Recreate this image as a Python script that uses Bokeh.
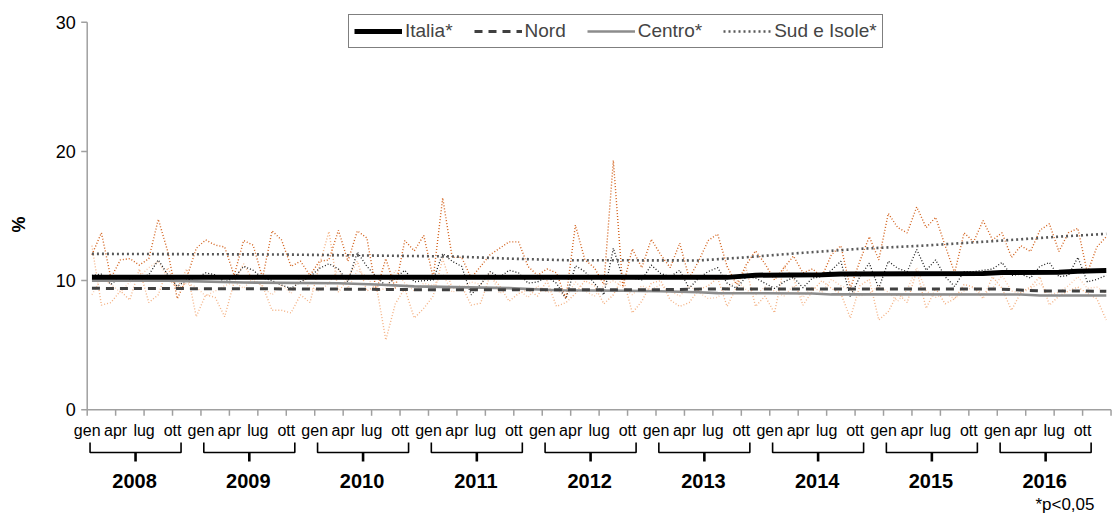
import math
from bokeh.plotting import figure
from bokeh.models import Range1d, Legend, LegendItem
from bokeh.core.properties import value
from bokeh.embed import file_html
from bokeh.resources import INLINE

# ---------------- data ----------------
anni = [2008, 2009, 2010, 2011, 2012, 2013, 2014, 2015, 2016]
mesi = ["gen", "apr", "lug", "ott"]
y_ticks = [0, 10, 20, 30]

# monthly values (%), Jan 2008 .. Dec 2016
italia_mensile = [
    10.4, 10.5, 9.7, 10.3, 10.1, 10.2, 10.45, 11.6, 10.45, 9.55, 10.05, 10.2,
    10.6, 10.45, 9.9, 10.2, 11.1, 10.8, 10.2, 10.0, 9.65, 9.4, 9.9, 10.3,
    10.95, 11.3, 10.9, 9.9, 12.2, 11.1, 10.3, 9.6, 10.2, 10.8, 9.9, 10.0,
    10.05, 12.1, 11.5, 11.1, 8.9, 9.7, 10.7, 10.25, 10.8, 10.6, 9.8, 9.9,
    10.3, 9.8, 8.6, 11.15, 10.7, 9.8, 8.9, 12.5, 10.2, 10.2, 10.05, 11.2,
    10.55, 10.3, 10.8, 9.4, 10.2, 10.7, 11.0, 9.8, 9.4, 10.3, 10.2, 9.8,
    9.4, 9.9, 10.25, 9.45, 10.2, 10.3, 10.8, 11.5, 8.75, 10.3, 11.35, 9.4,
    11.5, 10.95, 10.7, 12.4, 10.8, 11.6, 10.3, 9.55, 10.7, 10.7, 10.8, 10.9,
    11.4, 10.4, 10.5, 10.2, 11.1, 11.4, 10.3, 10.4, 11.8, 9.9, 10.1, 10.4,
]
nord_mensile = [
    8.9, 10.2, 9.7, 9.1, 9.9, 10.3, 11.0, 11.5, 10.2, 9.4, 9.8, 9.5,
    8.8, 9.2, 9.6, 9.9, 9.4, 10.2, 9.5, 8.9, 9.7, 9.0, 10.3, 9.4,
    9.2, 9.8, 10.9, 9.4, 10.8, 10.3, 9.2, 9.4, 10.8, 9.8, 9.2, 9.8,
    9.6, 10.5, 9.1, 9.4, 9.9, 9.7, 10.6, 9.0, 9.5, 9.3, 8.7, 9.6,
    9.1, 9.3, 8.7, 9.9, 9.2, 8.8, 9.6, 10.0, 9.5, 8.9, 9.6, 9.3,
    9.7, 9.2, 8.8, 9.6, 9.1, 8.6, 8.7, 9.4, 10.0, 9.3, 8.9, 9.5,
    9.2, 8.8, 9.6, 8.7, 9.5, 9.1, 10.1, 9.6, 9.3, 8.8, 9.0, 9.6,
    9.1, 8.4, 9.3, 11.0, 9.2, 8.7, 9.0, 8.6, 9.2, 9.5, 8.9, 9.4,
    10.4, 9.2, 9.0, 9.4, 9.8, 8.9, 9.1, 9.6, 10.3, 9.4, 9.5, 9.0,
]
centro_mensile = [
    12.7, 8.1, 8.3, 9.2, 8.5, 10.9, 8.3, 8.9, 11.0, 9.4, 10.9, 7.2,
    8.9, 8.7, 7.2, 9.9, 11.3, 10.0, 9.6, 7.7, 7.7, 7.5, 8.9, 8.3,
    11.2, 13.8, 9.1, 10.2, 11.5, 9.2, 9.6, 5.4, 8.2, 9.4, 7.1, 7.85,
    8.8, 11.7, 9.4, 9.6, 8.1, 8.25, 10.4, 9.6, 8.4, 9.0, 9.3, 8.8,
    10.0, 8.0, 8.3, 9.0, 10.0, 9.6, 8.2, 8.9, 10.3, 7.5, 8.4, 9.8,
    10.0, 8.5, 8.0, 8.3, 9.3, 9.6, 10.2, 8.0, 9.5, 11.0, 8.0, 8.8,
    7.5, 11.1, 10.2, 8.1, 9.2, 10.0, 9.4, 9.0, 7.1, 9.6, 10.1, 6.95,
    7.6, 9.0, 8.3, 10.8, 7.85, 9.4, 8.2, 8.6, 9.7, 9.5, 8.6, 10.3,
    9.4, 7.7, 9.1, 9.5, 10.3, 8.1, 8.8, 9.2, 9.5, 9.0, 8.6, 6.95,
]
sud_mensile = [
    12.0, 13.7, 10.2, 11.6, 11.7, 11.2, 11.7, 14.75, 12.25, 8.6, 10.2, 12.5,
    13.15, 12.75, 12.6, 10.4, 13.1, 12.75, 10.2, 13.85, 13.15, 11.1, 11.5, 10.4,
    11.5, 11.6, 13.9, 11.5, 13.85, 13.3, 9.2, 11.7, 9.4, 13.1, 12.3, 13.5,
    10.2, 16.4, 11.8, 11.8, 10.2, 11.1, 12.0, 12.5, 13.0, 13.0, 11.1, 10.4,
    10.9, 10.6, 8.6, 14.3, 11.6, 11.0, 9.7, 19.3, 9.5, 12.45, 11.0, 13.2,
    12.0, 11.0, 12.9, 10.2, 11.5, 13.1, 13.6, 11.1, 9.7, 11.2, 12.3, 11.3,
    10.05, 11.0, 11.9, 10.6, 10.9, 10.3, 12.0, 12.7, 9.4, 11.5, 13.4, 11.6,
    15.2, 14.1, 13.7, 15.7, 14.1, 14.9, 12.7, 10.6, 13.7, 13.0, 14.65, 13.15,
    13.7, 11.8, 12.7, 12.25, 13.9, 14.4, 12.25, 13.7, 14.05, 10.6, 12.6, 13.4,
]

# trend lines: (month index, value) breakpoints
italia_trend_mese = [0, 67, 70, 77, 79, 94, 96, 102, 104, 107]
italia_trend_val = [10.25, 10.25, 10.42, 10.45, 10.52, 10.55, 10.63, 10.65, 10.73, 10.78]
nord_trend_mese = [0, 24, 36, 60, 66, 96, 100, 107]
nord_trend_val = [9.4, 9.35, 9.29, 9.3, 9.36, 9.34, 9.2, 9.18]
centro_trend_mese = [0, 8, 16, 26, 30, 34, 44, 49, 56, 60, 64, 66, 76, 78, 98, 100, 107]
centro_trend_val = [10.0, 10.0, 9.85, 9.8, 9.7, 9.55, 9.42, 9.25, 9.22, 9.18, 9.1, 9.03, 9.0, 8.93, 8.92, 8.85, 8.85]
sud_trend_mese = [0, 20, 28, 38, 44, 50, 64, 68, 75, 81, 88, 95, 102, 107]
sud_trend_val = [12.07, 12.02, 11.95, 11.87, 11.7, 11.58, 11.56, 11.75, 12.15, 12.46, 12.72, 13.05, 13.4, 13.62]

# ---------------- figure ----------------
FONT = "Liberation Sans"
W, H = 1112, 513
SX, SY = 9.48, 12.92          # px per month, px per percentage point
X0, Y0 = 86.7, 409.3          # page position of (0, 0)
n_mesi = len(italia_mensile)
xm = [i + 0.5 for i in range(n_mesi)]

p = figure(width=W, height=H,
           x_range=Range1d(-X0 / SX, (W - X0) / SX),
           y_range=Range1d(-(H - Y0) / SY, Y0 / SY),
           output_backend="svg", toolbar_location=None,
           x_axis_location=None, y_axis_location=None,
           min_border_left=0, min_border_right=0, min_border_top=0, min_border_bottom=0)
p.xgrid.visible = False
p.ygrid.visible = False
p.outline_line_color = None
p.background_fill_color = "white"
p.border_fill_color = "white"

AX = "#a0a0a0"
# monthly series (dotted)
p.line(xm, centro_mensile, line_color="#F4B183", line_width=1.4, line_dash="1 2")
p.line(xm, nord_mensile, line_color="#F8CBAD", line_width=1.4, line_dash="1 2")
p.line(xm, italia_mensile, line_color="#1a1a1a", line_width=1.3, line_dash="1 2")
p.line(xm, sud_mensile, line_color="#D2601A", line_width=1.4, line_dash="1 2")

# trends
r_sud = p.line([m + 0.5 for m in sud_trend_mese], sud_trend_val, line_color="#595959",
               line_width=2.6, line_dash="2 3")
r_centro = p.line([m + 0.5 for m in centro_trend_mese], centro_trend_val, line_color="#8c8c8c",
                  line_width=2.6)
r_nord = p.line([m + 0.5 for m in nord_trend_mese], nord_trend_val, line_color="#404040",
                line_width=3, line_dash="8 6")
r_it = p.line([m + 0.5 for m in italia_trend_mese], italia_trend_val, line_color="black",
              line_width=5)

# y axis (drawn)
p.segment(x0=[0], y0=[y_ticks[0]], x1=[0], y1=[y_ticks[-1]], line_color=AX, line_width=1.5)
p.segment(x0=[0] * len(y_ticks), y0=y_ticks, x1=[-6 / SX] * len(y_ticks), y1=y_ticks,
          line_color=AX, line_width=1.5)
p.text(x=[-11.5 / SX] * len(y_ticks), y=y_ticks, text=[str(t) for t in y_ticks],
       text_align="right", text_baseline="middle",
       text_font=value(FONT), text_font_size="18px", text_color="black")
p.text(x=[(18 - X0) / SX], y=[(Y0 - 224) / SY], text=["%"], angle=math.pi / 2,
       text_align="center", text_baseline="middle",
       text_font=value(FONT), text_font_size="18px", text_font_style="bold", text_color="black")

# x axis (drawn)
p.segment(x0=[0], y0=[0], x1=[n_mesi], y1=[0], line_color=AX, line_width=1.5)
tx = list(range(0, n_mesi + 1, 3))
p.segment(x0=tx, y0=[0] * len(tx), x1=tx, y1=[-6 / SY] * len(tx), line_color=AX, line_width=1.5)

lab_x, lab_t = [], []
for k, a in enumerate(anni):
    for j, m in enumerate(mesi):
        lab_x.append(12 * k + 3 * j)
        lab_t.append(m)
p.text(x=lab_x, y=[-(430 - Y0) / SY] * len(lab_x), text=lab_t, text_align="center",
       text_baseline="middle", text_font=value(FONT), text_font_size="16px", text_color="black")

bx, by, cx0, yx, yt = [], [], [], [], []
yb_top, yb_mid, yb_bot = -(442 - Y0) / SY, -(452 - Y0) / SY, -(461 - Y0) / SY
for k, a in enumerate(anni):
    s, e = 12 * k + 0.3, 12 * k + 9.9
    bx.append([s, s, e, e])
    by.append([yb_top, yb_mid, yb_mid, yb_top])
    cx0.append(12 * k + 5.1)
    yx.append(12 * k + 5.0)
    yt.append(str(a))
p.multi_line(bx, by, line_color="black", line_width=1.6)
p.segment(x0=cx0, y0=[yb_mid] * len(cx0), x1=cx0, y1=[yb_bot] * len(cx0),
          line_color="black", line_width=2.6)
p.text(x=yx, y=[-(480 - Y0) / SY] * len(yx), text=yt, text_align="center", text_baseline="middle",
       text_font=value(FONT), text_font_size="20px", text_font_style="bold", text_color="black")

p.text(x=[(1094 - X0) / SX], y=[-(504 - Y0) / SY], text=["*p<0,05"], text_align="right",
       text_baseline="middle", text_font=value(FONT), text_font_size="17px", text_color="black")

legend = Legend(items=[LegendItem(label="Italia*", renderers=[r_it]),
                       LegendItem(label="Nord", renderers=[r_nord]),
                       LegendItem(label="Centro*", renderers=[r_centro]),
                       LegendItem(label="Sud e Isole*", renderers=[r_sud])],
                orientation="horizontal", location=(348, H - 48), margin=0,
                border_line_color="black", border_line_width=1.2,
                padding=5, spacing=21, label_standoff=3, glyph_width=48, glyph_height=18,
                label_text_font=FONT, label_text_font_size="19px", label_height=18,
                background_fill_color="white", background_fill_alpha=1.0)
p.add_layout(legend)

open("out.html", "w").write(file_html(p, INLINE))
